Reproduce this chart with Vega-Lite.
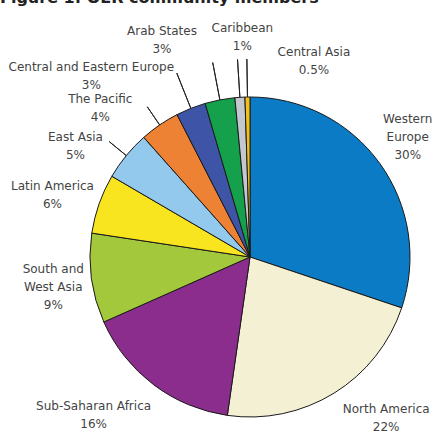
{
  "$schema": "https://vega.github.io/schema/vega-lite/v6.json",
  "autosize": {"type": "none"},
  "width": 320,
  "height": 320,
  "padding": {"left": 90, "top": 97, "right": 35, "bottom": 24},
  "background": "white",
  "title": {"text": "Figure 1: OER community members", "anchor": "start", "frame": "group", "font": "DejaVu Sans", "fontSize": 16, "fontWeight": "bold", "color": "#222222", "baseline": "top", "offset": 16, "dx": -90},
  "config": {
    "view": {"stroke": null},
    "text": {"font": "DejaVu Sans", "fontSize": 12, "fill": "#444444", "lineBreak": "\n", "lineHeight": 18, "align": "center", "baseline": "middle"}
  },
  "data": {
    "values": [
      {"region": "Western Europe", "value": 30, "label": "Western\nEurope\n30%", "order": 1},
      {"region": "North America", "value": 22, "label": "North America\n22%", "order": 2},
      {"region": "Sub-Saharan Africa", "value": 16, "label": "Sub-Saharan Africa\n16%", "order": 3},
      {"region": "South and West Asia", "value": 9, "label": "South and\nWest Asia\n9%", "order": 4},
      {"region": "Latin America", "value": 6, "label": "Latin America\n6%", "order": 5},
      {"region": "East Asia", "value": 5, "label": "East Asia\n5%", "order": 6},
      {"region": "The Pacific", "value": 4, "label": "The Pacific\n4%", "order": 7},
      {"region": "Central and Eastern Europe", "value": 3, "label": "Central and Eastern Europe\n3%", "order": 8},
      {"region": "Arab States", "value": 3, "label": "Arab States\n3%", "order": 9},
      {"region": "Caribbean", "value": 1, "label": "Caribbean\n1%", "order": 10},
      {"region": "Central Asia", "value": 0.5, "label": "Central Asia\n0.5%", "order": 11}
    ]
  },
  "transform": [
    {"stack": "value", "groupby": [], "sort": [{"field": "order", "order": "ascending"}], "as": ["v0", "v1"]}
  ],
  "layer": [
    {
      "mark": {"type": "arc", "outerRadius": 160, "stroke": "#1a1a1a", "strokeWidth": 1},
      "encoding": {
        "theta": {"field": "v0", "type": "quantitative", "scale": {"domain": [0, 99.5]}},
        "theta2": {"field": "v1"},
        "color": {
          "field": "region", "type": "nominal", "legend": null,
          "scale": {
            "domain": ["Western Europe", "North America", "Sub-Saharan Africa", "South and West Asia", "Latin America", "East Asia", "The Pacific", "Central and Eastern Europe", "Arab States", "Caribbean", "Central Asia"],
            "range": ["#0a7bc4", "#f3f0d4", "#8b2d8c", "#a4c83c", "#f8e520", "#94c9ee", "#ee8234", "#3e54a6", "#15a04c", "#c2c7d0", "#f2c01c"]
          }
        }
      }
    },
    {
      "transform": [{"filter": {"field": "region", "oneOf": ["East Asia", "The Pacific"]}}],
      "mark": {"type": "arc", "innerRadius": 160, "outerRadius": 182, "padAngle": 0.6, "filled": false, "stroke": "#222222", "strokeWidth": 1},
      "encoding": {
        "theta": {"field": "v0", "type": "quantitative", "scale": {"domain": [0, 99.5]}},
        "theta2": {"field": "v1"}
      }
    },
    {
      "transform": [{"filter": {"field": "region", "oneOf": ["Central and Eastern Europe", "Arab States", "Caribbean", "Central Asia"]}}],
      "mark": {"type": "arc", "innerRadius": 160, "outerRadius": 198, "padAngle": 0.6, "filled": false, "stroke": "#222222", "strokeWidth": 1},
      "encoding": {
        "theta": {"field": "v0", "type": "quantitative", "scale": {"domain": [0, 99.5]}},
        "theta2": {"field": "v1"}
      }
    },
    {"transform": [{"filter": "datum.region === 'Western Europe'"}], "mark": {"type": "text", "radius": 198, "thetaOffset": 0.9215, "dy": -18}, "encoding": {"theta": {"field": "v0", "type": "quantitative", "scale": {"domain": [0, 99.5]}}, "text": {"field": "label"}}},
    {"transform": [{"filter": "datum.region === 'North America'"}], "mark": {"type": "text", "radius": 211, "thetaOffset": 0.5456, "dy": -9}, "encoding": {"theta": {"field": "v0", "type": "quantitative", "scale": {"domain": [0, 99.5]}}, "text": {"field": "label"}}},
    {"transform": [{"filter": "datum.region === 'Sub-Saharan Africa'"}], "mark": {"type": "text", "radius": 222, "thetaOffset": 0.6398, "dy": -9}, "encoding": {"theta": {"field": "v0", "type": "quantitative", "scale": {"domain": [0, 99.5]}}, "text": {"field": "label"}}},
    {"transform": [{"filter": "datum.region === 'South and West Asia'"}], "mark": {"type": "text", "radius": 199, "thetaOffset": 0.2665, "dy": -18}, "encoding": {"theta": {"field": "v0", "type": "quantitative", "scale": {"domain": [0, 99.5]}}, "text": {"field": "label"}}},
    {"transform": [{"filter": "datum.region === 'Latin America'"}], "mark": {"type": "text", "radius": 207, "thetaOffset": 0.1538, "dy": -9}, "encoding": {"theta": {"field": "v0", "type": "quantitative", "scale": {"domain": [0, 99.5]}}, "text": {"field": "label"}}},
    {"transform": [{"filter": "datum.region === 'East Asia'"}], "mark": {"type": "text", "radius": 207, "thetaOffset": 0.0384, "dy": -9}, "encoding": {"theta": {"field": "v0", "type": "quantitative", "scale": {"domain": [0, 99.5]}}, "text": {"field": "label"}}},
    {"transform": [{"filter": "datum.region === 'The Pacific'"}], "mark": {"type": "text", "radius": 211, "thetaOffset": -0.0627, "dy": -9}, "encoding": {"theta": {"field": "v0", "type": "quantitative", "scale": {"domain": [0, 99.5]}}, "text": {"field": "label"}}},
    {"transform": [{"filter": "datum.region === 'Central and Eastern Europe'"}], "mark": {"type": "text", "radius": 241, "thetaOffset": -0.2454, "dy": -9}, "encoding": {"theta": {"field": "v0", "type": "quantitative", "scale": {"domain": [0, 99.5]}}, "text": {"field": "label"}}},
    {"transform": [{"filter": "datum.region === 'Arab States'"}], "mark": {"type": "text", "radius": 234, "thetaOffset": -0.1016, "dy": -9}, "encoding": {"theta": {"field": "v0", "type": "quantitative", "scale": {"domain": [0, 99.5]}}, "text": {"field": "label"}}},
    {"transform": [{"filter": "datum.region === 'Caribbean'"}], "mark": {"type": "text", "radius": 220, "thetaOffset": 0.0599, "dy": -9}, "encoding": {"theta": {"field": "v0", "type": "quantitative", "scale": {"domain": [0, 99.5]}}, "text": {"field": "label"}}},
    {"transform": [{"filter": "datum.region === 'Central Asia'"}], "mark": {"type": "text", "radius": 206, "thetaOffset": -5.936, "dy": -9}, "encoding": {"theta": {"field": "v0", "type": "quantitative", "scale": {"domain": [0, 99.5]}}, "text": {"field": "label"}}}
  ]
}
